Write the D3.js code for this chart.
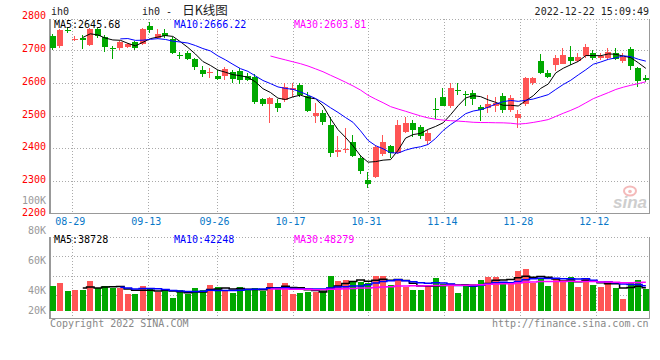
<!DOCTYPE html>
<html>
<head>
<meta charset="utf-8">
<title>ih0 - 日K线图</title>
<script src="https://cdn.jsdelivr.net/npm/d3@7"></script>
<style>
    body { margin: 0; background: #fff; }
    svg { display: block; font-family: "DejaVu Sans Mono", monospace; font-size: 10px; }
    .grid { stroke: #aaa; stroke-dasharray: 1,2; shape-rendering: crispEdges; fill: none; }
    .frame { stroke: #999; stroke-width: 1.5; shape-rendering: crispEdges; fill: none; }
</style>
</head>
<body>
<svg class="chart" width="660" height="360"></svg>
<script>
'use strict';

// trading days, 2022-08-25 .. 2022-12-22
var dates = [
    "08-25","08-26","08-29","08-30","08-31",
    "09-01","09-02","09-05","09-06","09-07","09-08","09-09","09-13","09-14","09-15","09-16",
    "09-19","09-20","09-21","09-22","09-23","09-26","09-27","09-28","09-29","09-30",
    "10-10","10-11","10-12","10-13","10-14","10-17","10-18","10-19","10-20","10-21",
    "10-24","10-25","10-26","10-27","10-28","10-31",
    "11-01","11-02","11-03","11-04","11-07","11-08","11-09","11-10","11-11","11-14",
    "11-15","11-16","11-17","11-18","11-21","11-22","11-23","11-24","11-25","11-28",
    "11-29","11-30",
    "12-01","12-02","12-05","12-06","12-07","12-08","12-09","12-12","12-13","12-14",
    "12-15","12-16","12-19","12-20","12-21","12-22"
];

var open = [
    2744, 2712, 2760, 2731, 2737, 2715, 2764, 2740, 2707, 2708,
    2710, 2723, 2717, 2773, 2737, 2751, 2734, 2684, 2692, 2672,
    2639, 2629, 2621, 2619, 2633, 2636, 2622, 2619, 2551, 2537,
    2539, 2548, 2576, 2593, 2560, 2499, 2509, 2471, 2390, 2395,
    2420, 2370, 2304, 2312, 2383, 2407, 2385, 2451, 2478, 2464,
    2423, 2520, 2558, 2527, 2578, 2566, 2569, 2527, 2523, 2527,
    2560, 2517, 2493, 2535, 2598, 2666, 2631, 2654, 2659, 2680,
    2667, 2680, 2690, 2676, 2676, 2692, 2667, 2702, 2644, 2614
];
var high = [
    2748, 2763, 2766, 2743, 2746, 2768, 2768, 2745, 2712, 2728,
    2722, 2727, 2768, 2786, 2763, 2764, 2741, 2693, 2697, 2675,
    2652, 2646, 2640, 2649, 2640, 2644, 2630, 2628, 2553, 2558,
    2550, 2600, 2598, 2600, 2573, 2537, 2517, 2497, 2438, 2461,
    2441, 2380, 2329, 2410, 2441, 2410, 2487, 2497, 2487, 2472,
    2456, 2553, 2583, 2600, 2600, 2575, 2578, 2532, 2563, 2557,
    2568, 2563, 2517, 2619, 2618, 2687, 2639, 2685, 2707, 2713,
    2690, 2718, 2700, 2692, 2705, 2706, 2691, 2710, 2649, 2624
];
var low = [
    2700, 2706, 2751, 2727, 2702, 2713, 2736, 2695, 2673, 2700,
    2706, 2699, 2715, 2751, 2733, 2738, 2689, 2672, 2670, 2640,
    2619, 2616, 2610, 2608, 2598, 2596, 2605, 2535, 2529, 2477,
    2512, 2542, 2558, 2558, 2512, 2477, 2471, 2375, 2373, 2387,
    2373, 2322, 2278, 2310, 2377, 2370, 2383, 2446, 2436, 2430,
    2410, 2489, 2529, 2522, 2563, 2530, 2532, 2483, 2507, 2511,
    2507, 2511, 2461, 2529, 2593, 2626, 2615, 2636, 2659, 2654,
    2663, 2676, 2670, 2670, 2670, 2670, 2660, 2639, 2588, 2602
];
var close = [
    2708, 2761, 2758, 2734, 2730, 2764, 2744, 2710, 2705, 2725,
    2718, 2705, 2764, 2761, 2749, 2741, 2692, 2683, 2674, 2649,
    2626, 2633, 2612, 2641, 2612, 2610, 2609, 2542, 2537, 2554,
    2524, 2588, 2583, 2563, 2515, 2507, 2481, 2387, 2395, 2398,
    2377, 2329, 2291, 2404, 2420, 2385, 2471, 2477, 2458, 2438,
    2446, 2516, 2532, 2583, 2575, 2563, 2551, 2517, 2534, 2537,
    2517, 2553, 2505, 2614, 2614, 2629, 2619, 2675, 2685, 2667,
    2680, 2708, 2675, 2683, 2694, 2675, 2680, 2651, 2605, 2609
];
var volume = [
    42100, 47700, 33700, 35400, 35400, 50500, 38200, 42100, 38200, 38200,
    28600, 28600, 42100, 36500, 32500, 35400, 21300, 35400, 28600, 38200,
    35400, 43800, 39900, 35400, 30800, 39900, 36500, 38200, 34200, 47700,
    39900, 47700, 28600, 30800, 32500, 32500, 36500, 58900, 50500, 52200,
    50500, 49400, 47700, 59400, 59400, 43800, 53900, 40900, 35400, 35400,
    42100, 56100, 45500, 43800, 30800, 45500, 45500, 52200, 57800, 57800,
    47700, 49400, 67900, 70700, 47700, 55000, 42100, 53300, 52200, 57800,
    40900, 55000, 43800, 40900, 49400, 39300, 20200, 47700, 52200, 37000
];

var tickDates = ["08-29", "09-13", "09-26", "10-17", "10-31", "11-14", "11-28", "12-12"];
var priceTicks = [2200, 2300, 2400, 2500, 2600, 2700, 2800];
var volTicks = [20000, 40000, 60000, 80000, 100000];
var maPeriods = [5, 10, 30];
var maColors = ["#000", "#00f", "#f0f"];
var priceMaText = ["MA5:2645.68", "MA10:2666.22", "MA30:2603.81"];
var volMaText = ["MA5:38728", "MA10:42248", "MA30:48279"];

var red = "#ff5555", green = "#00a800";

var left = 50, right = 649.5,
    priceTop = 19, priceBottom = 213.5,
    volTop = 236.5, volBottom = 318.5;

var svg = d3.select(".chart");

var x = d3.scaleBand()
    .domain(dates)
    .range([49, 649.6])
    .paddingInner(0.2)
    .paddingOuter(0.1);

// Sina places its date grid on a slightly wider step than the candles
var xGrid = d3.scaleLinear().domain([0, dates.length - 1]).range([57.1, 657.0]);

var y = d3.scaleLinear().domain([2200, 2800]).range([214, 17.2]);
var yVol = d3.scaleLinear().domain([0, 100000]).range([311, 251.6]);
var yVolLabel = d3.scaleLinear().domain([40000, 100000]).range([290.7, 200.7]);

var candles = dates.map(function (d, i) {
    return {date: d, i: i, o: open[i], h: high[i], l: low[i], c: close[i], v: volume[i]};
});

function bx(d) { return Math.round(x(d.date)); }
function colorOf(d) { return d.c >= d.o ? red : green; }

function movingAverage(values, n) {
    return values.map(function (v, i) {
        return i < n - 1 ? null : d3.mean(values.slice(i - n + 1, i + 1));
    });
}

// ---------- frames & grids ----------
var grid = svg.append("g");

grid.selectAll(".hgrid").data(priceTicks.slice(1, -1))
    .enter().append("line")
    .attr("class", "grid")
    .attr("x1", left).attr("x2", right)
    .attr("y1", function (d) { return Math.round(y(d)) + 0.5; })
    .attr("y2", function (d) { return Math.round(y(d)) + 0.5; });

grid.selectAll(".vgrid").data(tickDates)
    .enter().append("line")
    .attr("class", "grid")
    .attr("x1", function (d) { return Math.round(xGrid(dates.indexOf(d))) + 0.5; })
    .attr("x2", function (d) { return Math.round(xGrid(dates.indexOf(d))) + 0.5; })
    .attr("y1", priceTop).attr("y2", priceBottom);

grid.selectAll(".vgrid2").data(tickDates)
    .enter().append("line")
    .attr("class", "grid")
    .attr("x1", function (d) { return Math.round(xGrid(dates.indexOf(d))) + 0.5; })
    .attr("x2", function (d) { return Math.round(xGrid(dates.indexOf(d))) + 0.5; })
    .attr("y1", volTop).attr("y2", volBottom + 2);

grid.selectAll(".vhgrid").data([1, 2, 3])
    .enter().append("line")
    .attr("class", "grid")
    .attr("x1", left).attr("x2", right)
    .attr("y1", function (k) { return Math.round(volTop + 19.5 * k) + 0.5; })
    .attr("y2", function (k) { return Math.round(volTop + 19.5 * k) + 0.5; });

[priceTop, volTop].forEach(function (t) {
    grid.append("line").attr("class", "grid")
        .attr("x1", left).attr("x2", right).attr("y1", t + 0.5).attr("y2", t + 0.5);
});

[[priceTop, priceBottom], [volTop, volBottom]].forEach(function (p) {
    grid.append("path").attr("class", "frame")
        .attr("d", "M" + left + "," + p[0] + "V" + p[1] + "H" + right + "V" + p[0]);
});

// ---------- watermark ----------
var mark = svg.append("g").attr("opacity", 0.9);
mark.append("ellipse").attr("cx", 630).attr("cy", 191).attr("rx", 6).attr("ry", 4.5)
    .attr("fill", "none").attr("stroke", "#f3b3b3").attr("stroke-width", 2);
mark.append("circle").attr("cx", 630).attr("cy", 191.5).attr("r", 1.8).attr("fill", "#f3b3b3");
mark.append("text").attr("x", 647).attr("y", 208)
    .attr("text-anchor", "end")
    .style("font-family", "'Liberation Sans', sans-serif")
    .style("font-size", "17px").style("font-style", "italic").style("font-weight", "bold")
    .attr("fill", "#c9c9c9").text("sina");

// ---------- candles ----------
var candleG = svg.append("g").attr("shape-rendering", "crispEdges");

candleG.selectAll(".wick").data(candles)
    .enter().append("line")
    .attr("x1", function (d) { return bx(d) + 2.5; })
    .attr("x2", function (d) { return bx(d) + 2.5; })
    .attr("y1", function (d) { return y(d.h); })
    .attr("y2", function (d) { return y(d.l); })
    .attr("stroke", colorOf);

candleG.selectAll(".body").data(candles)
    .enter().append("rect")
    .attr("x", bx)
    .attr("width", Math.round(x.bandwidth()))
    .attr("y", function (d) { return Math.round(y(Math.max(d.o, d.c))); })
    .attr("height", function (d) { return Math.max(1, Math.round(Math.abs(y(d.o) - y(d.c)))); })
    .attr("fill", colorOf);

// ---------- price moving averages ----------
var priceLine = d3.line()
    .defined(function (d) { return d != null; })
    .x(function (d, i) { return x(dates[i]) + x.bandwidth() / 2; })
    .y(function (d) { return y(d); });

maPeriods.forEach(function (n, k) {
    svg.append("path")
        .attr("d", priceLine(movingAverage(close, n)))
        .attr("fill", "none")
        .attr("stroke", maColors[k])
        .attr("stroke-width", 1);
});

// ---------- volume ----------
svg.append("g").attr("shape-rendering", "crispEdges")
    .selectAll("rect").data(candles)
    .enter().append("rect")
    .attr("x", bx)
    .attr("width", Math.round(x.bandwidth()))
    .attr("y", function (d) { return Math.round(yVol(d.v)); })
    .attr("height", function (d) { return yVol(0) - Math.round(yVol(d.v)); })
    .attr("fill", colorOf);

var volLine = d3.line()
    .defined(function (d) { return d != null; })
    .x(function (d, i) { return x(dates[i]) + x.bandwidth() / 2; })
    .y(function (d) { return yVol(d); })
    .curve(d3.curveStep);

maPeriods.forEach(function (n, k) {
    svg.append("path")
        .attr("d", volLine(movingAverage(volume, n)))
        .attr("fill", "none")
        .attr("stroke", maColors[k])
        .attr("stroke-width", 1.5);
});

// ---------- axis labels ----------
svg.append("g").selectAll("text").data(priceTicks)
    .enter().append("text")
    .attr("x", 46).attr("y", function (d) { return y(d) - 1.5; })
    .attr("dy", "0.35em").attr("text-anchor", "end")
    .attr("fill", "#f00")
    .text(function (d) { return d; });

svg.append("g").selectAll("text").data(volTicks)
    .enter().append("text")
    .attr("x", 46).attr("y", function (d) { return Math.min(yVolLabel(d), 310.7); })
    .attr("dy", "0.35em").attr("text-anchor", "end")
    .attr("fill", "#999")
    .text(function (d) { return (d / 1000) + "K"; });

svg.append("g").selectAll("text").data(tickDates)
    .enter().append("text")
    .attr("x", function (d) { return xGrid(dates.indexOf(d)) - 2; })
    .attr("y", 225)
    .attr("text-anchor", "middle")
    .attr("fill", "#0878c8")
    .text(function (d) { return d; });

// ---------- headers ----------
svg.append("text").attr("x", 51).attr("y", 15).attr("fill", "#222").text("ih0");

var title = svg.append("text").attr("x", 142).attr("y", 15).attr("fill", "#222");
title.append("tspan").text("ih0 - ");
title.append("tspan")
    .style("font-family", "'Noto Sans CJK SC', sans-serif")
    .style("font-size", "12.5px")
    .attr("dx", 4)
    .text("日K线图");

svg.append("text").attr("x", 649).attr("y", 15).attr("text-anchor", "end")
    .attr("fill", "#222").text("2022-12-22 15:09:49");

priceMaText.forEach(function (t, k) {
    svg.append("text").attr("x", 54 + 120 * k).attr("y", 28)
        .attr("fill", maColors[k]).text(t);
});
volMaText.forEach(function (t, k) {
    svg.append("text").attr("x", 54 + 120 * k).attr("y", 243)
        .attr("fill", maColors[k]).text(t);
});

svg.append("text").attr("x", 50).attr("y", 327).attr("fill", "#888")
    .text("Copyright 2022 SINA.COM");
svg.append("text").attr("x", 648.5).attr("y", 327).attr("text-anchor", "end")
    .attr("fill", "#888").text("http://finance.sina.com.cn");
</script>
</body>
</html>
